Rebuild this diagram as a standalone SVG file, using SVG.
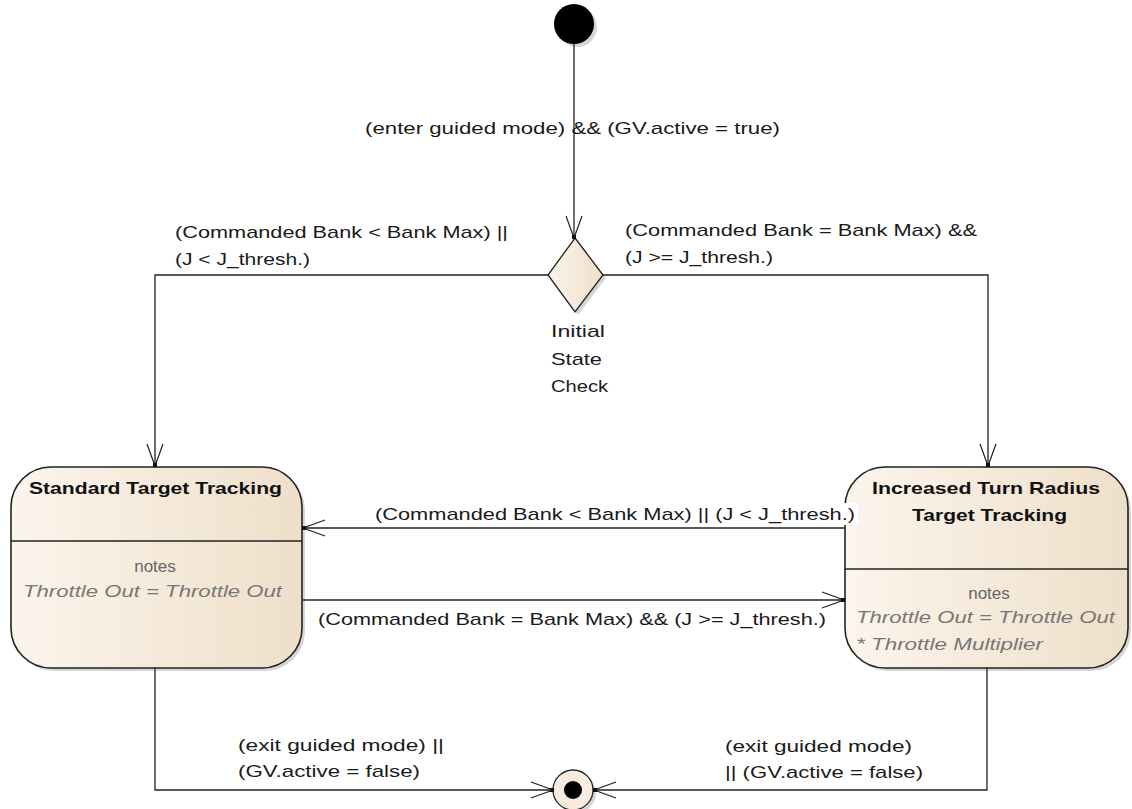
<svg xmlns="http://www.w3.org/2000/svg" width="1132" height="809" viewBox="0 0 1132 809">
<style>
.t{font-family:"Liberation Sans",Arial,sans-serif;font-size:17px;fill:#1a1a1a}
.b{font-family:"Liberation Sans",Arial,sans-serif;font-size:17px;font-weight:bold;fill:#111}
.n{font-family:"Liberation Sans",Arial,sans-serif;font-size:17px;fill:#666}
.i{font-family:"Liberation Sans",Arial,sans-serif;font-size:17px;font-style:italic;fill:#777}
.ln{fill:none;stroke:#222;stroke-width:1.3}
.box{fill:url(#g);stroke:#222;stroke-width:1.6}
.sh{fill:#bbb;opacity:0.6}
</style>
<defs>
<linearGradient id="g" x1="0" y1="0" x2="1" y2="0">
<stop offset="0" stop-color="#fcf5ec"/>
<stop offset="1" stop-color="#eedfc9"/>
</linearGradient>
<marker id="a" markerWidth="30" markerHeight="22" refX="24" refY="11" orient="auto" markerUnits="userSpaceOnUse">
<path d="M2 3 L24 11 L2 19" fill="none" stroke="#222" stroke-width="1.2"/>
<rect x="21" y="9" width="4" height="4" fill="#111"/>
</marker>
</defs>

<g id="initial">
<circle cx="577" cy="27" r="20" fill="#bbb" opacity="0.6"/>
<circle cx="574" cy="24" r="20" fill="#000"/>
</g>

<g id="decision">
<polygon points="578,241 606,278 578,315 551,278" class="sh"/>
<polygon points="575,238 603,275 575,312 548,275" fill="url(#g)" stroke="#222" stroke-width="1.3"/>
<text class="t" x="551" y="337" textLength="54" lengthAdjust="spacingAndGlyphs">Initial</text>
<text class="t" x="551" y="365" textLength="51" lengthAdjust="spacingAndGlyphs">State</text>
<text class="t" x="551" y="392" textLength="57" lengthAdjust="spacingAndGlyphs">Check</text>
</g>

<g id="standard">
<rect x="14" y="470" width="291" height="201" rx="40" class="sh"/>
<rect x="11" y="467" width="291" height="201" rx="40" class="box"/>
<line x1="11" y1="541" x2="302" y2="541" stroke="#222" stroke-width="1.4"/>
<text class="b" x="29" y="494" textLength="253" lengthAdjust="spacingAndGlyphs">Standard Target Tracking</text>
<text class="n" x="155" y="572" text-anchor="middle">notes</text>
<text class="i" x="23" y="597" textLength="259" lengthAdjust="spacingAndGlyphs">Throttle Out = Throttle Out</text>
</g>

<g id="increased">
<rect x="848" y="470" width="283" height="201" rx="40" class="sh"/>
<rect x="845" y="467" width="283" height="201" rx="40" class="box"/>
<line x1="845" y1="569" x2="1128" y2="569" stroke="#222" stroke-width="1.4"/>
<text class="b" x="872" y="494" textLength="228" lengthAdjust="spacingAndGlyphs">Increased Turn Radius</text>
<text class="b" x="912" y="521" textLength="155" lengthAdjust="spacingAndGlyphs">Target Tracking</text>
<text class="n" x="989" y="599" text-anchor="middle">notes</text>
<text class="i" x="856" y="623" textLength="259" lengthAdjust="spacingAndGlyphs">Throttle Out = Throttle Out</text>
<text class="i" x="856" y="650" textLength="187" lengthAdjust="spacingAndGlyphs">* Throttle Multiplier</text>
</g>

<g id="final">
<circle cx="576" cy="793" r="20" fill="#bbb" opacity="0.6"/>
<circle cx="573" cy="790" r="20" fill="#f7ecdd" stroke="#222" stroke-width="1.3"/>
<circle cx="573" cy="790" r="9" fill="#000"/>
</g>

<g id="connectors">
<path class="ln" d="M574 44 V238" marker-end="url(#a)"/>
<path class="ln" d="M548 275 H155 V466" marker-end="url(#a)"/>
<path class="ln" d="M603 275 H988 V466" marker-end="url(#a)"/>
<path class="ln" d="M845 528 H303" marker-end="url(#a)"/>
<path class="ln" d="M303 600 H844" marker-end="url(#a)"/>
<path class="ln" d="M155 668 V790 H553" marker-end="url(#a)"/>
<path class="ln" d="M987 668 V790 H594" marker-end="url(#a)"/>
<text class="t" x="365" y="134" textLength="415" lengthAdjust="spacingAndGlyphs">(enter guided mode) &amp;&amp; (GV.active = true)</text>
<text class="t" x="175" y="238" textLength="333" lengthAdjust="spacingAndGlyphs">(Commanded Bank &lt; Bank Max) ||</text>
<text class="t" x="175" y="265" textLength="135" lengthAdjust="spacingAndGlyphs">(J &lt; J_thresh.)</text>
<text class="t" x="625" y="236" textLength="352" lengthAdjust="spacingAndGlyphs">(Commanded Bank = Bank Max) &amp;&amp;</text>
<text class="t" x="625" y="263" textLength="148" lengthAdjust="spacingAndGlyphs">(J &gt;= J_thresh.)</text>
<rect x="372" y="503" width="486" height="22" fill="#fff"/>
<text class="t" x="375" y="520" textLength="480" lengthAdjust="spacingAndGlyphs">(Commanded Bank &lt; Bank Max) || (J &lt; J_thresh.)</text>
<text class="t" x="318" y="625" textLength="508" lengthAdjust="spacingAndGlyphs">(Commanded Bank = Bank Max) &amp;&amp; (J &gt;= J_thresh.)</text>
<text class="t" x="238" y="751" textLength="206" lengthAdjust="spacingAndGlyphs">(exit guided mode) ||</text>
<text class="t" x="238" y="777" textLength="182" lengthAdjust="spacingAndGlyphs">(GV.active = false)</text>
<text class="t" x="725" y="752" textLength="187" lengthAdjust="spacingAndGlyphs">(exit guided mode)</text>
<text class="t" x="725" y="778" textLength="198" lengthAdjust="spacingAndGlyphs">|| (GV.active = false)</text>
</g>
</svg>
